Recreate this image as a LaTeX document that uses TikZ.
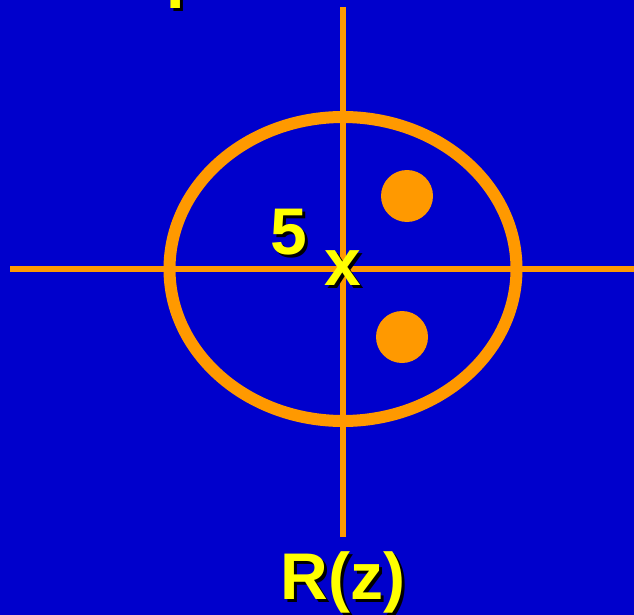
\documentclass[tikz,border=0pt]{standalone}
\usepackage{fontspec}
\setmainfont{Liberation Sans}
\usepackage{xcolor}
\definecolor{bgblue}{HTML}{0000CC}
\definecolor{axisorange}{HTML}{FF9900}
\definecolor{labelyellow}{HTML}{FFFF00}
\tikzset{
  axis/.style={draw=axisorange,line width=6pt},
  rim/.style={draw=axisorange,line width=12pt},
  pole/.style={fill=axisorange},
  lbl/.style={font=\bfseries\fontsize{66}{66}\selectfont,text=labelyellow,inner sep=0pt},
  lblshadow/.style={lbl,text=black}
}
\begin{document}
\begin{tikzpicture}[x=1pt,y=-1pt,line join=round]
  \fill[bgblue] (0,0) rectangle (634,615);
  \useasboundingbox (0,0) rectangle (634,615);
  \clip (0,0) rectangle (634,615);
  \coordinate (O) at (343,269);
  \coordinate (XL) at (10,269);
  \coordinate (XR) at (634,269);
  \coordinate (YT) at (343,7);
  \coordinate (YB) at (343,537);
  \draw[axis] (XL) -- (XR);
  \draw[axis] (YT) -- (YB);
  \draw[rim] (O) ellipse [x radius=173.5, y radius=152];
  \fill[pole] (407,196) circle (26);
  \fill[pole] (402,337) circle (26);
  % labels with drop shadow
  \node[lblshadow] (tops) at (179,-11) {I};
  \node[lbl] (top) at (176,-14) {I};
  \node[lblshadow] (fives) at (292,235) {5};
  \node[lbl] (five) at (289,232) {5};
  \node[lblshadow] (zeros) at (346,271) {x};
  \node[lbl] (zero) at (343,268) {x};
  \node[lblshadow] (Rzs) at (346,585) {R(z)};
  \node[lbl] (Rz) at (343,582) {R(z)};
\end{tikzpicture}
\end{document}
